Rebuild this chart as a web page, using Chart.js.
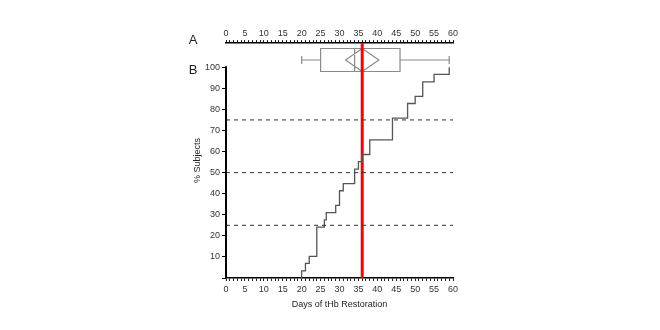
<!DOCTYPE html>
<html>
<head>
<meta charset="utf-8">
<script src="https://cdn.jsdelivr.net/npm/chart.js@4.4.1/dist/chart.umd.min.js"></script>
<style>
  body { margin: 0; background: #fff; }
  canvas { display: block; }
</style>
</head>
<body>
<canvas id="restoration-chart" width="660" height="330"></canvas>
<script>
// cumulative % of subjects with tHb restored, by day
const days = [20, 20, 21, 22, 24, 26, 26.5, 29, 30, 31, 34, 35, 36, 38, 44, 48, 50, 52, 55, 59];
const pctSubjects = [0, 3.4, 6.9, 10.3, 24.1, 27.6, 31.0, 34.5, 41.4, 44.8, 51.7, 55.2, 58.6, 65.5, 75.9, 82.8, 86.2, 93.1, 96.6, 100];

// reference levels and the marked day
const quartileLevels = [25, 50, 75];
const markerDay = 36;

// box plot summary of restoration days: min, q1, median, q3, max
const boxSummary = [20, 25, 34, 46, 59];
// mean and its interval (diamond)
const meanInterval = [31.6, 36, 40.4];

const xTicks = [0, 5, 10, 15, 20, 25, 30, 35, 40, 45, 50, 55, 60];
const yTicks = [0, 10, 20, 30, 40, 50, 60, 70, 80, 90, 100];

const Y_MAX = 111.5;
const tickFont = { family: 'Liberation Sans, Arial, sans-serif', size: 9 };

const stepPoints = days.map((d, i) => ({ x: d, y: pctSubjects[i] }));

const datasets = [];
quartileLevels.forEach(level => {
    datasets.push({
        data: [{ x: 0, y: level }, { x: 60, y: level }],
        borderColor: '#333',
        borderWidth: 1,
        borderDash: [4, 4],
        pointRadius: 0
    });
});
datasets.push({
    data: stepPoints,
    stepped: 'before',
    borderColor: '#555',
    borderWidth: 1.3,
    pointRadius: 0
});
datasets.push({
    data: [{ x: markerDay, y: 0 }, { x: markerDay, y: Y_MAX }],
    borderColor: '#ff0000',
    borderWidth: 3,
    pointRadius: 0
});

// box plot row above the curve, y axis line, panel letters
const annotations = {
    id: 'annotations',
    beforeDatasetsDraw(chart) {
        const ctx = chart.ctx;
        const x = chart.scales.x;
        const top = chart.chartArea.top;
        const cy = top + 17;
        const half = 11.5;
        const px = v => x.getPixelForValue(v);
        const [mn, q1, med, q3, mx] = boxSummary;
        const [lo, mean, hi] = meanInterval;

        ctx.save();
        ctx.strokeStyle = '#8a8a8a';
        ctx.lineWidth = 1.2;
        ctx.beginPath();
        // whiskers
        ctx.moveTo(px(mn), cy); ctx.lineTo(px(q1), cy);
        ctx.moveTo(px(q3), cy); ctx.lineTo(px(mx), cy);
        ctx.moveTo(px(mn), cy - 4); ctx.lineTo(px(mn), cy + 4);
        ctx.moveTo(px(mx), cy - 4); ctx.lineTo(px(mx), cy + 4);
        // box and median
        ctx.rect(px(q1), cy - half, px(q3) - px(q1), half * 2);
        ctx.moveTo(px(med), cy - half); ctx.lineTo(px(med), cy + half);
        // mean diamond
        ctx.moveTo(px(lo), cy);
        ctx.lineTo(px(mean), cy - half);
        ctx.lineTo(px(hi), cy);
        ctx.lineTo(px(mean), cy + half);
        ctx.closePath();
        ctx.stroke();
        ctx.restore();
    },
    afterDraw(chart) {
        const ctx = chart.ctx;
        const y = chart.scales.y;
        const left = chart.chartArea.left;
        ctx.save();
        ctx.strokeStyle = '#000';
        ctx.lineWidth = 2;
        ctx.beginPath();
        ctx.moveTo(left, y.getPixelForValue(0));
        ctx.lineTo(left, y.getPixelForValue(100) - 1);
        ctx.stroke();

        ctx.fillStyle = '#222';
        ctx.font = '13px Liberation Sans, Arial, sans-serif';
        ctx.textAlign = 'center';
        ctx.textBaseline = 'middle';
        ctx.fillText('A', 193, 40);
        ctx.fillText('B', 193, 70);
        ctx.restore();
    }
};

const dayAxis = (position, height, withTitle, pad) => ({
    type: 'linear',
    position: position,
    min: 0,
    max: 60,
    afterBuildTicks: scale => {
        const t = [];
        for (let d = 0; d <= 60; d++) t.push({ value: d });
        scale.ticks = t;
    },
    afterFit: scale => { scale.height = height; },
    ticks: {
        autoSkip: false,
        maxRotation: 0,
        padding: pad,
        color: '#333',
        font: tickFont,
        callback: v => (xTicks.includes(v) ? v : '')
    },
    grid: {
        drawOnChartArea: false,
        tickLength: 3,
        tickColor: '#222',
        tickWidth: 1
    },
    border: { color: '#000', width: 1.5 },
    title: {
        display: withTitle,
        text: 'Days of tHb Restoration',
        color: '#222',
        font: tickFont
    }
});

new Chart(document.getElementById('restoration-chart'), {
    type: 'line',
    data: { datasets: datasets },
    options: {
        responsive: false,
        animation: false,
        layout: { padding: { left: 190, right: 207, top: 23, bottom: 16 } },
        plugins: {
            legend: { display: false },
            tooltip: { enabled: false }
        },
        scales: {
            x: dayAxis('bottom', 36, true, 3),
            x2: dayAxis('top', 20, false, 1),
            y: {
                type: 'linear',
                min: 0,
                max: Y_MAX,
                afterBuildTicks: scale => {
                    scale.ticks = yTicks.map(v => ({ value: v }));
                },
                afterFit: scale => { scale.width = 36; },
                ticks: {
                    padding: 2,
                    color: '#333',
                    font: tickFont,
                    callback: v => (v === 0 ? '' : v)
                },
                grid: {
                    drawOnChartArea: false,
                    tickLength: 4,
                    tickColor: '#000',
                    color: '#000'
                },
                border: { display: false },
                title: {
                    display: true,
                    text: '% Subjects',
                    color: '#222',
                    font: tickFont,
                    padding: { top: 2, bottom: 4 }
                }
            }
        }
    },
    plugins: [annotations]
});
</script>
</body>
</html>
